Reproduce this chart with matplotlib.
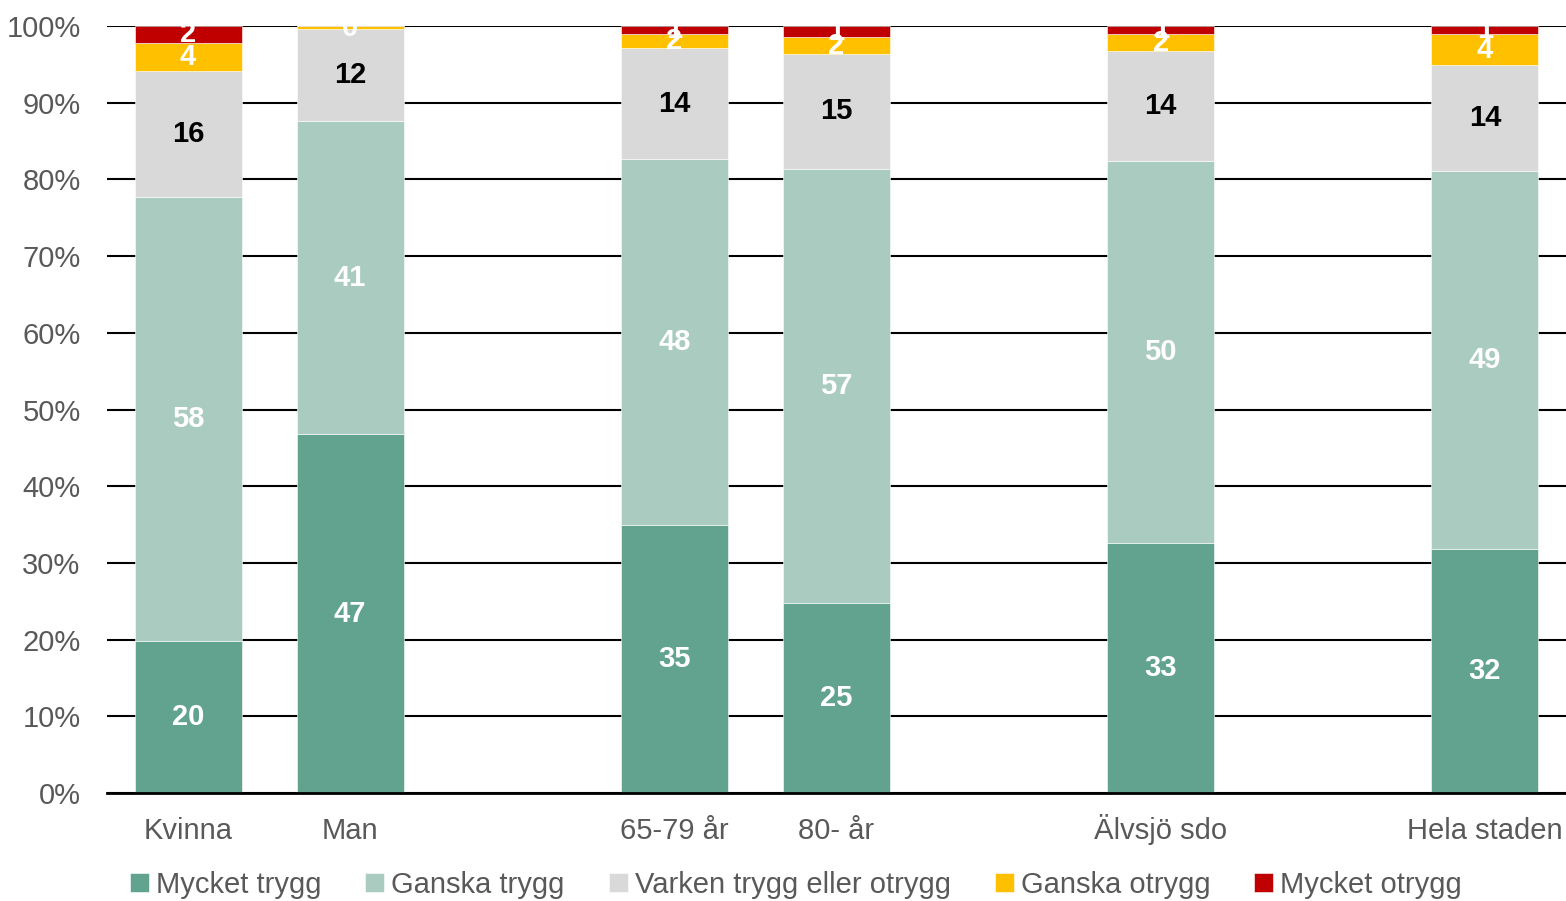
import matplotlib.pyplot as plt
import numpy as np

plt.rcParams['font.family'] = ['Liberation Sans', 'DejaVu Sans']

# Data (percent), empty strings = spacer slots
categories = ["Kvinna", "Man", "", "65-79 år", "80- år", "", "Älvsjö sdo", "", "Hela staden"]
series = ["Mycket trygg", "Ganska trygg", "Varken trygg eller otrygg", "Ganska otrygg", "Mycket otrygg"]
mycket_trygg  = [19.8, 46.8, 0, 34.9, 24.8, 0, 32.6, 0, 31.8]
ganska_trygg  = [57.9, 40.8, 0, 47.7, 56.6, 0, 49.8, 0, 49.3]
varken        = [16.4, 12.0, 0, 14.5, 14.95, 0, 14.3, 0, 13.8]
ganska_otrygg = [3.7, 0.4, 0, 1.8, 2.2, 0, 2.2, 0, 4.0]
mycket_otrygg = [2.2, 0.0, 0, 1.1, 1.45, 0, 1.1, 0, 1.1]

colors = ["#62A390", "#A9CBC0", "#D9D9D9", "#FFC000", "#C00000"]
label_colors = ["white", "white", "black", "white", "white"]

values = [mycket_trygg, ganska_trygg, varken, ganska_otrygg, mycket_otrygg]

fig = plt.figure(figsize=(15.66, 9.01), dpi=100)
ax = fig.add_axes([107 / 1566, 108 / 901, 1459 / 1566, 767 / 901])

x = np.arange(len(categories))
bottom = np.zeros(len(categories))
for name, vals, col, lcol in zip(series, values, colors, label_colors):
    vals = np.array(vals, dtype=float)
    ax.bar(x, vals, bottom=bottom, width=0.66, color=col, label=name,
           edgecolor="white", linewidth=0.4, zorder=2)
    for xi, v, b, cat in zip(x, vals, bottom, categories):
        if cat == "":
            continue
        if v <= 0 and name != "Ganska otrygg":
            continue
        ax.text(xi, b + v / 2, f"{v:.0f}", ha="center", va="center",
                color=lcol, fontsize=21, fontweight="bold", zorder=3, clip_on=True)
    bottom += vals

ax.set_xlim(-0.5, len(categories) - 0.5)
ax.set_ylim(0, 100)
ax.set_yticks(np.arange(0, 101, 10))
ax.set_yticklabels([f"{t}%" for t in range(0, 101, 10)])
ax.set_xticks(x)
ax.set_xticklabels(categories)
ax.yaxis.grid(True, color="black", linewidth=1.5, zorder=0)
ax.set_axisbelow(True)
for s in ["left", "right", "top"]:
    ax.spines[s].set_visible(False)
ax.spines["bottom"].set_linewidth(2)
ax.tick_params(axis="both", length=0, labelsize=21, labelcolor="#595959")
ax.tick_params(axis="y", pad=19)
ax.tick_params(axis="x", pad=33)
for lbl in ax.get_xticklabels():
    lbl.set_verticalalignment("baseline")

handles, labels = ax.get_legend_handles_labels()
leg = fig.legend(handles, labels, loc="center", bbox_to_anchor=(796 / 1566, 1 - 885 / 901),
                 ncol=5, frameon=False, fontsize=21, handlelength=0.65, handleheight=0.65,
                 handletextpad=0.25, columnspacing=1.5, labelcolor="#595959")

fig.savefig("out.png", dpi=100)
